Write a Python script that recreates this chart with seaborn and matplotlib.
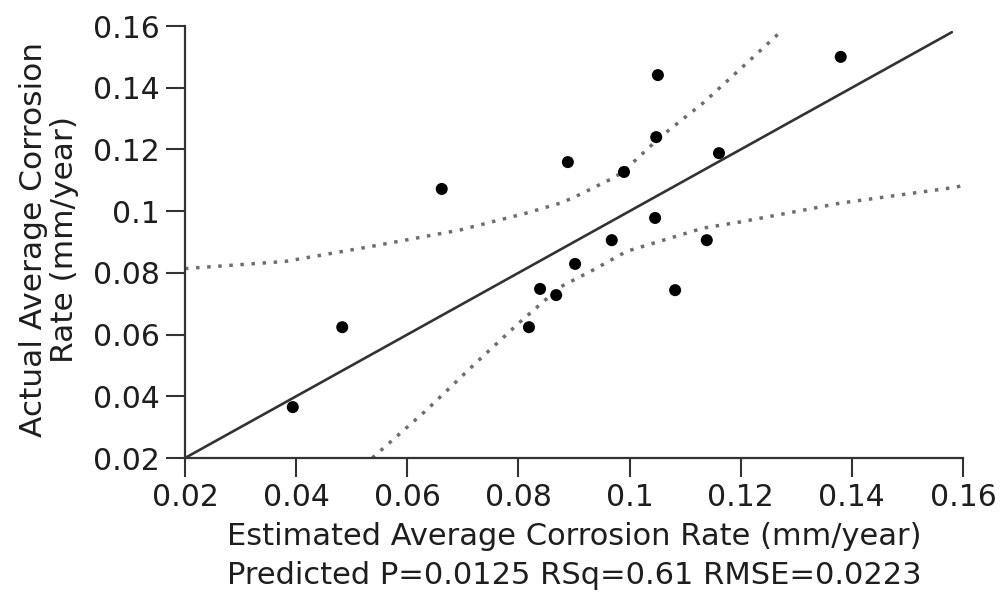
import matplotlib
matplotlib.use("Agg")
import matplotlib.pyplot as plt
import seaborn as sns

# Estimated vs actual corrosion rate (mm/year)
estimated = [0.0394, 0.0483, 0.0662, 0.0819, 0.0839, 0.0868, 0.0889, 0.0902, 0.0968,
             0.0990, 0.1046, 0.1048, 0.1051, 0.1082, 0.1139, 0.1161, 0.1380]
actual = [0.0365, 0.0624, 0.1072, 0.0624, 0.0748, 0.0728, 0.1159, 0.0829, 0.0906,
          0.1127, 0.0978, 0.1240, 0.1441, 0.0744, 0.0906, 0.1188, 0.1500]

# fit line (actual = predicted)
fit_x = [0.02, 0.158]
fit_y = [0.02, 0.158]

# confidence curves
upper_x = [0.020, 0.038, 0.0533, 0.0695, 0.0815, 0.0875, 0.0898, 0.0970, 0.0988,
           0.1055, 0.1132, 0.1211, 0.1271]
upper_y = [0.0814, 0.0837, 0.0885, 0.0939, 0.0994, 0.1026, 0.1043, 0.1107, 0.1127,
           0.1240, 0.1350, 0.1480, 0.1580]
lower_x = [0.0537, 0.0635, 0.0725, 0.0803, 0.0875, 0.0934, 0.0995, 0.1132, 0.1199,
           0.1294, 0.1379, 0.1589, 0.1600]
lower_y = [0.0200, 0.0356, 0.0511, 0.0641, 0.0754, 0.0809, 0.0870, 0.0945, 0.0965,
           0.0997, 0.1026, 0.1078, 0.1085]

ticks = [0.02, 0.04, 0.06, 0.08, 0.1, 0.12, 0.14, 0.16]
tick_labels = ["0.02", "0.04", "0.06", "0.08", "0.1", "0.12", "0.14", "0.16"]

sns.set_style("ticks")
plt.rcParams['font.family'] = ['DejaVu Sans']
text_color = '#1e1e1e'

fig = plt.figure(figsize=(10.01, 5.97), dpi=100)
ax = fig.add_axes([0.1848, 0.2328, 0.7772, 0.7236])

dotted = (0, (1.0, 2.2))
sns.lineplot(x=upper_x, y=upper_y, ax=ax, color='#6e6e6e', linewidth=2.5,
             linestyle=dotted, estimator=None, sort=False)
sns.lineplot(x=lower_x, y=lower_y, ax=ax, color='#6e6e6e', linewidth=2.5,
             linestyle=dotted, estimator=None, sort=False)
sns.lineplot(x=fit_x, y=fit_y, ax=ax, color='#333333', linewidth=1.9,
             estimator=None, sort=False)
sns.scatterplot(x=estimated, y=actual, ax=ax, color='black', s=75,
                edgecolor='none', zorder=5)

ax.set_xlim(0.02, 0.16)
ax.set_ylim(0.02, 0.16)
ax.set_xticks(ticks)
ax.set_xticklabels(tick_labels)
ax.set_yticks(ticks)
ax.set_yticklabels(tick_labels)

for s in ['top', 'right']:
    ax.spines[s].set_visible(False)
for s in ['left', 'bottom']:
    ax.spines[s].set_color('#333333')
    ax.spines[s].set_linewidth(1.6)

ax.tick_params(axis='both', direction='out', length=14, width=1.5,
               color='#333333', labelsize=21.5, labelcolor=text_color, pad=4)

ax.set_xlabel("Estimated Average Corrosion Rate (mm/year)\n"
              "Predicted P=0.0125 RSq=0.61 RMSE=0.0223",
              fontsize=22, color=text_color, linespacing=1.4,
              ha='center', va='center', multialignment='center')
ax.xaxis.set_label_coords(0.5, -0.227)
ax.set_ylabel("Actual Average Corrosion\nRate (mm/year)",
              fontsize=22.5, color=text_color, linespacing=1.07,
              ha='center', va='center', multialignment='center')
ax.yaxis.set_label_coords(-0.175, 0.505)

fig.savefig('out.png', dpi=100, facecolor='white')
